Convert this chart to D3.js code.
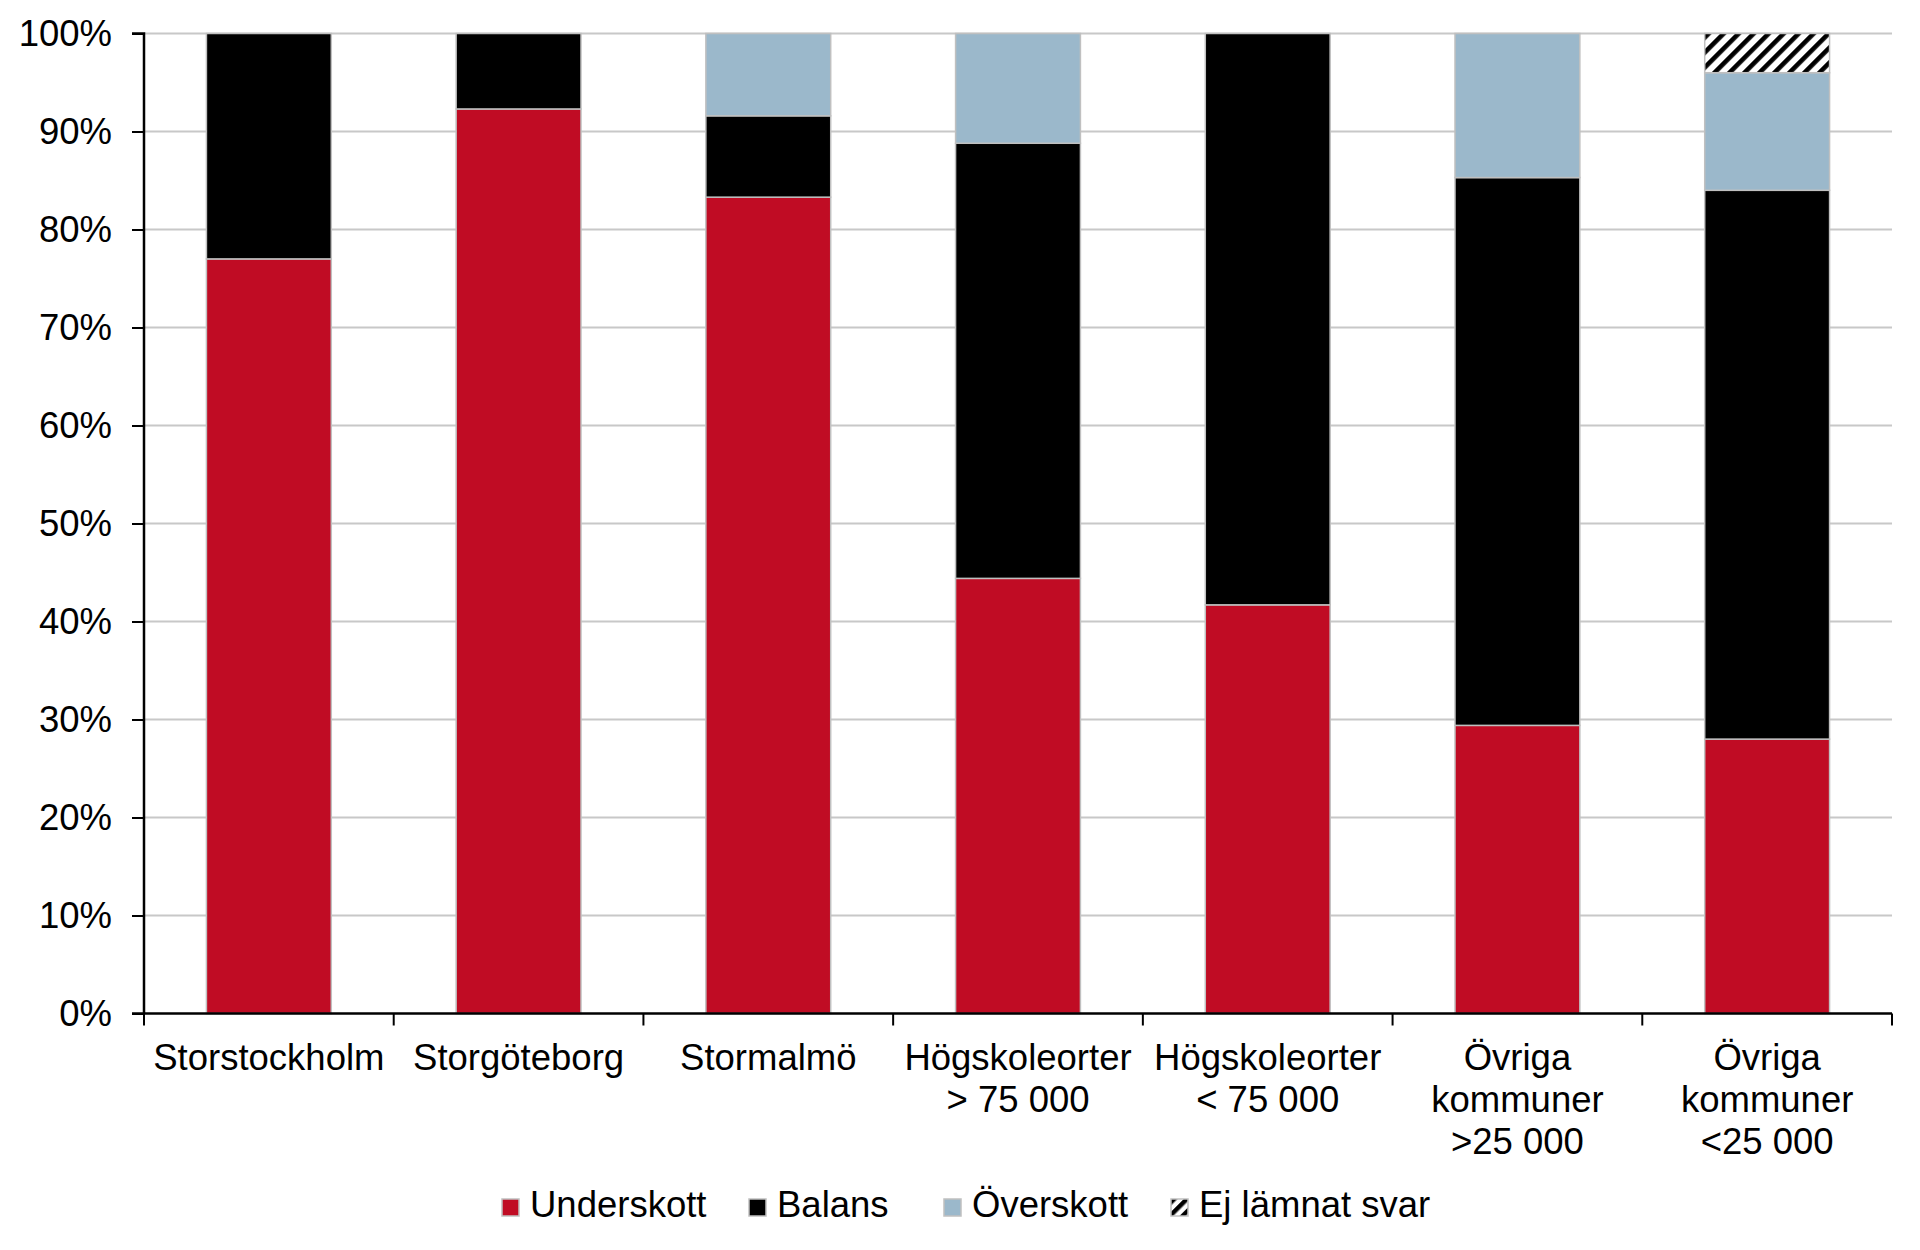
<!DOCTYPE html>
<html>
<head>
<meta charset="utf-8">
<script src="https://cdn.jsdelivr.net/npm/d3@7"></script>
<style>
  html, body { margin: 0; padding: 0; background: #fff; }
  svg { display: block; font-family: "Liberation Sans", Arial, sans-serif; }
</style>
</head>
<body>
<svg id="chart" width="1920" height="1250"></svg>
<script>
const categories = ["Storstockholm", "Storgöteborg", "Stormalmö", "Högskoleorter\n> 75 000", "Högskoleorter\n< 75 000", "Övriga\nkommuner\n>25 000", "Övriga\nkommuner\n<25 000"];
const seriesNames = ["Underskott", "Balans", "Överskott", "Ej lämnat svar"];
const underskott = [77.0, 92.3, 83.3, 44.4, 41.7, 29.4, 28.0];
const balans     = [23.0, 7.7, 8.3, 44.4, 58.3, 55.9, 56.0];
const overskott  = [0, 0, 8.4, 11.2, 0, 14.7, 12.0];
const ejSvar     = [0, 0, 0, 0, 0, 0, 4.0];
const yTicks = [0, 10, 20, 30, 40, 50, 60, 70, 80, 90, 100];
const yTickLabels = ["0%", "10%", "20%", "30%", "40%", "50%", "60%", "70%", "80%", "90%", "100%"];

const colors = ["#c00c24", "#000000", "#9bb8cb", "url(#hatch)"];

const rows = categories.map((c, i) => ({
  cat: c,
  "Underskott": underskott[i],
  "Balans": balans[i],
  "Överskott": overskott[i],
  "Ej lämnat svar": ejSvar[i]
}));

const svg = d3.select("#chart");
const mLeft = 144, mRight = 1892, mTop = 33.5, mBottom = 1013.5;
const fs = 36.5;

const defs = svg.append("defs");
const pat = defs.append("pattern")
  .attr("id", "hatch").attr("patternUnits", "userSpaceOnUse")
  .attr("width", 10.6).attr("height", 10.6)
  .attr("patternTransform", "rotate(45)");
pat.append("rect").attr("width", 10.6).attr("height", 10.6).attr("fill", "#fff");
pat.append("rect").attr("x", 0).attr("y", 0).attr("width", 4.6).attr("height", 10.6).attr("fill", "#000");

const patS = defs.append("pattern")
  .attr("id", "hatchSmall").attr("patternUnits", "userSpaceOnUse")
  .attr("width", 9).attr("height", 9)
  .attr("patternTransform", "rotate(45)");
patS.append("rect").attr("width", 9).attr("height", 9).attr("fill", "#fff");
patS.append("rect").attr("width", 4.5).attr("height", 9).attr("fill", "#000");

const x = d3.scaleBand().domain(categories).range([mLeft, mRight]).paddingInner(0.5).paddingOuter(0.25);
const y = d3.scaleLinear().domain([0, 100]).range([mBottom, mTop]);

// gridlines
svg.append("g").selectAll("line").data(yTicks.filter(d => d > 0)).join("line")
  .attr("x1", mLeft).attr("x2", mRight)
  .attr("y1", d => y(d)).attr("y2", d => y(d))
  .attr("stroke", "#c8c8c8").attr("stroke-width", 2);

// bars
const stack = d3.stack().keys(seriesNames)(rows);
svg.append("g").selectAll("g").data(stack).join("g")
  .attr("fill", (d, i) => colors[i])
  .selectAll("rect").data(d => d.filter(v => v[1] - v[0] > 0)).join("rect")
  .attr("x", d => x(d.data.cat))
  .attr("width", x.bandwidth())
  .attr("y", d => y(Math.min(d[1], 100)))
  .attr("height", d => y(d[0]) - y(Math.min(d[1], 100)))
  .attr("stroke", "#c0c0c0").attr("stroke-width", 1.5);

// y axis
const yAxis = d3.axisLeft(y).tickValues(yTicks).tickSize(12).tickPadding(20)
  .tickFormat((d, i) => yTickLabels[i]);
const gy = svg.append("g").attr("transform", `translate(${mLeft},0)`).call(yAxis);
gy.select(".domain").attr("stroke", "#000").attr("stroke-width", 2.5).attr("d", `M-12,${mTop}H0V${mBottom}`);
gy.selectAll(".tick line").attr("stroke", "#000").attr("stroke-width", 2);
gy.selectAll(".tick text").attr("font-size", fs).attr("fill", "#000")
  .attr("font-family", "'Liberation Sans', Arial, sans-serif");

// x axis
svg.append("line").attr("x1", mLeft - 12).attr("x2", mRight).attr("y1", mBottom).attr("y2", mBottom)
  .attr("stroke", "#000").attr("stroke-width", 2.5);
const boundaries = d3.range(categories.length + 1).map(i => mLeft + i * x.step());
svg.append("g").selectAll("line").data(boundaries).join("line")
  .attr("x1", d => d).attr("x2", d => d)
  .attr("y1", mBottom).attr("y2", mBottom + 12)
  .attr("stroke", "#000").attr("stroke-width", 2);

// category labels
const lab = svg.append("g").selectAll("text").data(categories).join("text")
  .attr("text-anchor", "middle").attr("font-size", fs).attr("fill", "#000")
  .attr("transform", d => `translate(${x(d) + x.bandwidth() / 2},1070)`);
lab.selectAll("tspan").data(d => d.split("\n")).join("tspan")
  .attr("x", 0).attr("y", (d, i) => i * 42).text(d => d);

// legend
const legendX = [502, 749, 944, 1171];
const lg = svg.append("g").selectAll("g").data(seriesNames).join("g")
  .attr("transform", (d, i) => `translate(${legendX[i]},1199)`);
lg.append("rect").attr("width", 17).attr("height", 17)
  .attr("fill", (d, i) => i === 3 ? "url(#hatchSmall)" : colors[i])
  .attr("stroke", "#c0c0c0").attr("stroke-width", 1.5);
lg.append("text").attr("x", 28).attr("y", 18).attr("font-size", fs).attr("fill", "#000").text(d => d);
</script>
</body>
</html>
